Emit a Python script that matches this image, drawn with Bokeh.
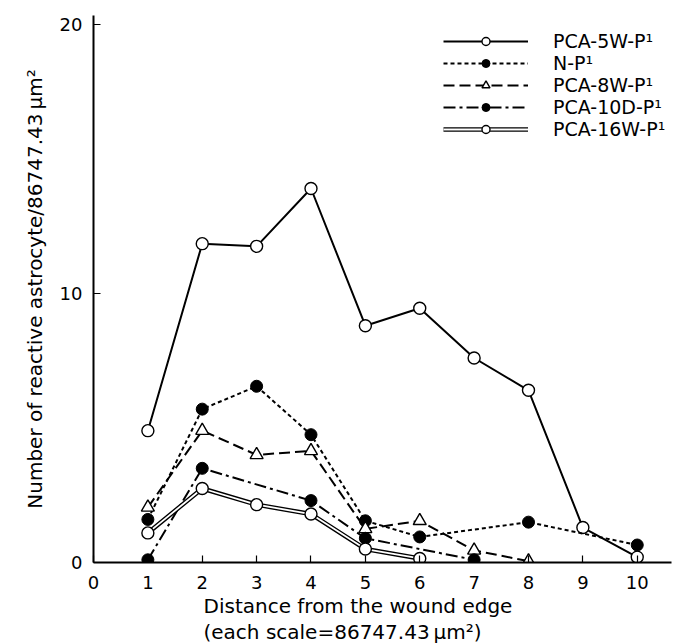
from bokeh.plotting import figure
from bokeh.models import Legend, LegendItem, FixedTicker, Range1d, Title
from bokeh.embed import file_html
from bokeh.resources import INLINE

# ---- data ----
x_ticks = [0, 1, 2, 3, 4, 5, 6, 7, 8, 9, 10]
y_ticks = [0, 10, 20]

x_5w = [1, 2, 3, 4, 5, 6, 7, 8, 9, 10]
y_5w = [4.9, 11.85, 11.75, 13.9, 8.8, 9.45, 7.6, 6.4, 1.3, 0.2]

x_np = [1, 2, 3, 4, 5, 6, 8, 10]
y_np = [1.6, 5.7, 6.55, 4.75, 1.55, 0.95, 1.5, 0.65]

x_8w = [1, 2, 3, 4, 5, 6, 7, 8]
y_8w = [2.05, 4.9, 4.0, 4.15, 1.25, 1.55, 0.45, 0.05]

x_10d = [1, 2, 4, 5, 7]
y_10d = [0.1, 3.5, 2.3, 0.9, 0.1]

x_16w = [1, 2, 3, 4, 5, 6]
y_16w = [1.1, 2.75, 2.15, 1.8, 0.5, 0.15]

names = ["PCA-5W-P\u00b9", "N-P\u00b9", "PCA-8W-P\u00b9", "PCA-10D-P\u00b9", "PCA-16W-P\u00b9"]
x_title = ["Distance from the wound edge", "(each scale=86747.43\u202f\u00b5m\u00b2)"]
y_title = "Number of reactive astrocyte/86747.43\u202f\u00b5m\u00b2"

FONT = "DejaVu Sans"

p = figure(width=682, height=644, output_backend="svg", toolbar_location=None,
           x_range=Range1d(0, 10.63), y_range=Range1d(0, 20.33),
           min_border_left=93, min_border_right=11, min_border_top=15, min_border_bottom=82)
p.outline_line_color = None
p.xgrid.visible = False
p.ygrid.visible = False
p.background_fill_color = "white"

# 5W solid
l5 = p.line(x_5w, y_5w, line_color="black", line_width=2)
m5 = p.scatter(x_5w, y_5w, marker="circle", size=12, fill_color="white", line_color="black", line_width=1.4)
# N-P short dash
lnp = p.line(x_np, y_np, line_color="black", line_width=2, line_dash="4 3")
mnp = p.scatter(x_np, y_np, marker="circle", size=12, fill_color="black", line_color="black")
# 8W long dash
l8 = p.line(x_8w, y_8w, line_color="black", line_width=2, line_dash="11 5")
m8 = p.scatter(x_8w, y_8w, marker="triangle", size=13, fill_color="white", line_color="black", line_width=1.4)
# 10D dash-dot
l10 = p.line(x_10d, y_10d, line_color="black", line_width=2, line_dash="12 4 3 4")
m10 = p.scatter(x_10d, y_10d, marker="circle", size=12, fill_color="black", line_color="black")
# 16W double line
l16a = p.line(x_16w, y_16w, line_color="black", line_width=4.5)
l16b = p.line(x_16w, y_16w, line_color="white", line_width=1.8)
m16 = p.scatter(x_16w, y_16w, marker="circle", size=12, fill_color="white", line_color="black", line_width=1.4)

# axes
for ax in (p.xaxis[0], p.yaxis[0]):
    ax.axis_line_color = "black"
    ax.axis_line_width = 2
    ax.major_tick_in = 7
    ax.major_tick_out = 0
    ax.minor_tick_line_color = None
    ax.major_tick_line_color = "black"
    ax.major_tick_line_width = 1.2
    ax.major_label_text_font = FONT
    ax.major_label_text_font_size = "18px"
    ax.major_label_text_color = "black"
    ax.axis_label_text_font = FONT
    ax.axis_label_text_font_size = "20px"
    ax.axis_label_text_font_style = "normal"
    ax.axis_label_text_color = "black"

p.xaxis.ticker = FixedTicker(ticks=x_ticks)
p.yaxis.ticker = FixedTicker(ticks=y_ticks)
p.xaxis.major_label_standoff = 13
p.yaxis.major_label_standoff = 11
p.yaxis.axis_label = y_title
p.yaxis.axis_label_standoff = 10

# x title: two left-aligned lines below the axis
for t in x_title:
    p.add_layout(Title(text=t, align="left", offset=110, standoff=0,
                       text_font=FONT, text_font_size="20px", text_font_style="normal",
                       text_color="black", text_line_height=1.0), "below")

legend = Legend(items=[
    LegendItem(label=names[0], renderers=[l5, m5]),
    LegendItem(label=names[1], renderers=[lnp, mnp]),
    LegendItem(label=names[2], renderers=[l8, m8]),
    LegendItem(label=names[3], renderers=[l10, m10]),
    LegendItem(label=names[4], renderers=[l16a, l16b, m16]),
], location=(350, 422), orientation="vertical")
legend.glyph_width = 85
legend.glyph_height = 20
legend.spacing = 0
legend.padding = 0
legend.margin = 0
legend.label_standoff = 25
legend.label_text_font = FONT
legend.label_text_font_size = "19px"
legend.label_text_color = "black"
legend.border_line_color = None
legend.background_fill_alpha = 0
p.add_layout(legend)

open("out.html", "w").write(file_html(p, INLINE))
